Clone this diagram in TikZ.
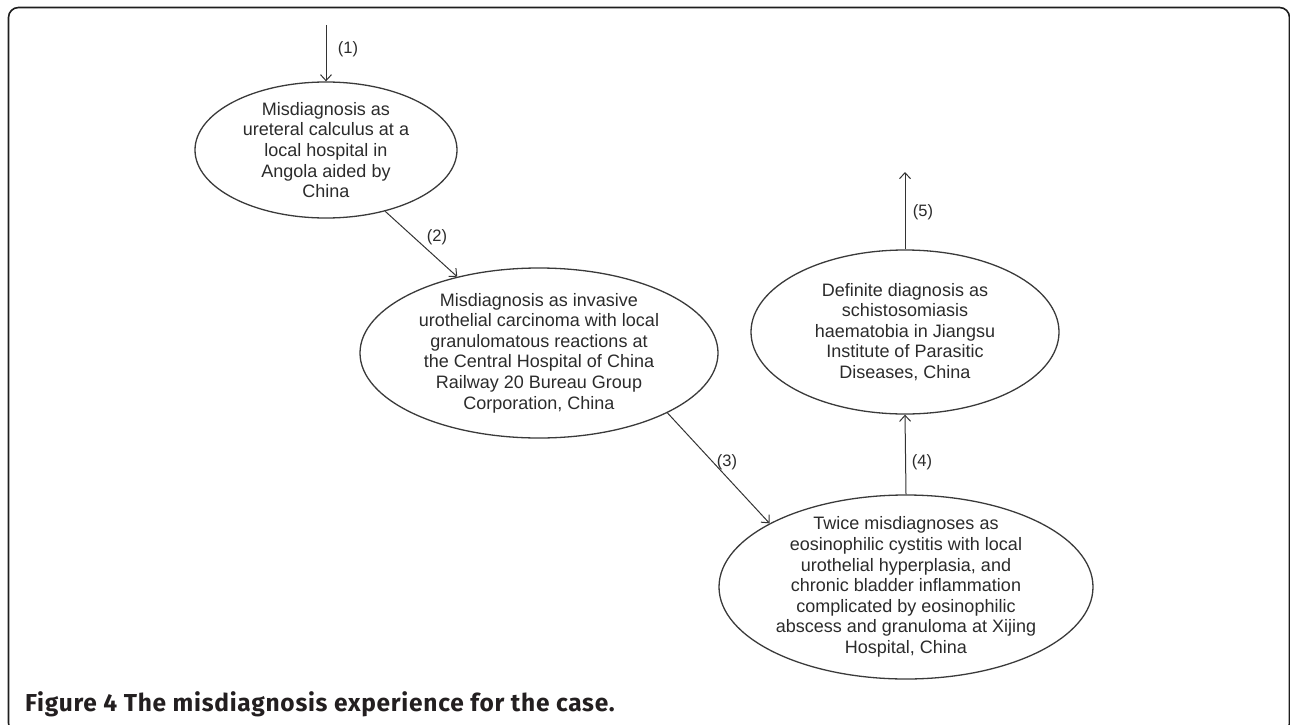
\documentclass[tikz,border=0pt]{standalone}
\usepackage{fontspec}
\setmainfont{Liberation Sans}
\newfontfamily\capfont[LetterSpace=3]{Fira Sans}
\usetikzlibrary{shapes.geometric,arrows.meta}
\definecolor{ellcol}{HTML}{3A3A3A}
\definecolor{txtcol}{HTML}{2B2B2B}
\definecolor{arrcol}{HTML}{333333}
\definecolor{framecol}{HTML}{1E1E1E}
\definecolor{capcol}{HTML}{231F20}
\begin{document}
\begin{tikzpicture}[x=1pt,y=-1pt,
  ell/.style={ellipse, draw=ellcol, line width=1.3pt, inner sep=0pt},
  txt/.style={align=center, font=\fontsize{18}{20.6}\selectfont, text=txtcol, inner sep=0pt},
  arr/.style={draw=arrcol, line width=1pt, -{Straight Barb[length=6pt,width=11pt]}},
  lab/.style={font=\fontsize{16.5}{20}\selectfont, text=txtcol, inner sep=0pt}]
\useasboundingbox (0,0) rectangle (1290,725);
\clip (0,0) rectangle (1290,725);
\draw[line width=1.6pt, draw=framecol, rounded corners=10pt] (8.5,7.5) rectangle (1289.5,733);

\node[ell, minimum width=262pt, minimum height=136pt] (e1) at (326,150) {};
\node[ell, minimum width=358pt, minimum height=170pt] (e2) at (539,353) {};
\node[ell, minimum width=308pt, minimum height=164pt] (e3) at (905,332) {};
\node[ell, minimum width=374pt, minimum height=184pt] (e4) at (906,587) {};

\node[txt] (t1) at (e1.center) {Misdiagnosis as\\ureteral calculus at a\\local hospital in\\Angola aided by\\China};
\node[txt] (t2) at (e2.center) {Misdiagnosis as invasive\\urothelial carcinoma with local\\granulomatous reactions at\\the Central Hospital of China\\Railway 20 Bureau Group\\Corporation, China};
\node[txt] (t3) at (e3.center) {Definite diagnosis as\\schistosomiasis\\haematobia in Jiangsu\\Institute of Parasitic\\Diseases, China};
\node[txt] (t4) at (e4.center) {Twice misdiagnoses as\\eosinophilic cystitis with local\\urothelial hyperplasia, and\\chronic bladder inflammation\\complicated by eosinophilic\\abscess and granuloma at Xijing\\Hospital, China};

\coordinate (s1) at (326,25);
\coordinate (t5) at (905,172);
\draw[arr] (s1) -- (e1.north);
\draw[arr] (e1.-46) -- (e2.137);
\draw[arr] (e2.-25) -- (e4.155);
\draw[arr] (e4.north) -- (e3.south);
\draw[arr] (e3.north) -- (t5);

\node[lab] (l1) at (348,49) {(1)};
\node[lab] (l2) at (437,237) {(2)};
\node[lab] (l3) at (727,462) {(3)};
\node[lab] (l4) at (922,462) {(4)};
\node[lab] (l5) at (923,212) {(5)};

\node[anchor=base west, inner sep=0pt, font=\capfont\bfseries\fontsize{24.5}{28}\selectfont, text=capcol] (cap) at (25,711) {Figure 4 The misdiagnosis experience for the case.};
\end{tikzpicture}
\end{document}
